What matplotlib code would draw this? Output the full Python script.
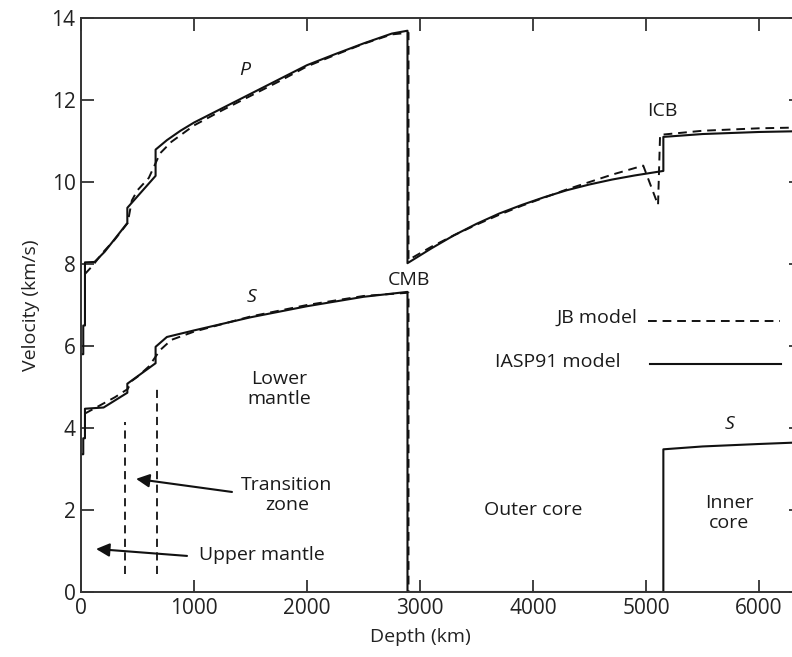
import matplotlib
matplotlib.use("Agg")
import matplotlib.pyplot as plt

plt.rcParams['font.family'] = ['Open Sans', 'DejaVu Sans']

# ---- data (depth km, velocity km/s) ----
iasp_p_depth = [0, 20, 20, 35, 35, 120, 210, 410, 410, 660, 660, 760, 880, 1000, 1250, 1500,
                1750, 2000, 2250, 2500, 2750, 2889, 2889, 3100, 3300, 3500, 3700, 3900, 4100,
                4300, 4500, 4700, 4900, 5153, 5153, 5500, 6000, 6371]
iasp_p_vel = [5.8, 5.8, 6.5, 6.5, 8.04, 8.05, 8.30, 9.0, 9.37, 10.15, 10.79, 11.02, 11.25,
              11.45, 11.8, 12.15, 12.5, 12.85, 13.12, 13.38, 13.62, 13.69, 8.02, 8.38, 8.70,
              8.98, 9.23, 9.44, 9.63, 9.80, 9.94, 10.06, 10.16, 10.27, 11.1, 11.17, 11.22, 11.24]

iasp_s_depth = [0, 20, 20, 35, 35, 200, 410, 410, 660, 660, 760, 1000, 1500, 2000, 2500, 2889,
                2889, 5153, 5153, 5500, 6000, 6371]
iasp_s_vel = [3.36, 3.36, 3.75, 3.75, 4.47, 4.5, 4.86, 5.08, 5.58, 5.98, 6.22, 6.38, 6.7, 6.97,
              7.2, 7.32, 0.0, 0.0, 3.48, 3.55, 3.61, 3.65]

jb_p_depth = [33, 100, 200, 300, 413, 450, 500, 600, 650, 700, 800, 1000, 1250, 1500, 1750,
              2000, 2250, 2500, 2750, 2898, 2898, 3100, 3300, 3500, 3700, 3900, 4100, 4300,
              4500, 4700, 4975, 5106, 5124, 5500, 6000, 6371]
jb_p_vel = [7.75, 7.95, 8.3, 8.6, 9.0, 9.55, 9.8, 10.1, 10.4, 10.7, 10.98, 11.38, 11.75, 12.1,
            12.45, 12.82, 13.1, 13.37, 13.6, 13.64, 8.1, 8.42, 8.70, 8.96, 9.20, 9.42, 9.62,
            9.82, 10.0, 10.18, 10.4, 9.44, 11.15, 11.25, 11.31, 11.33]

jb_s_depth = [33, 100, 200, 300, 413, 450, 500, 600, 650, 700, 800, 1000, 1500, 2000, 2500,
              2898, 2898]
jb_s_vel = [4.35, 4.45, 4.6, 4.75, 4.95, 5.15, 5.25, 5.5, 5.7, 5.9, 6.15, 6.35, 6.72, 7.0,
            7.22, 7.3, 0.0]

x_ticks = [0, 1000, 2000, 3000, 4000, 5000, 6000]
y_ticks = [0, 2, 4, 6, 8, 10, 12, 14]

# transition-zone boundaries (depth, y-bottom, y-top)
tz_depth = [390, 670]
tz_bottom = [0.44, 0.44]
tz_top = [4.15, 4.97]

# ---- figure ----
fig = plt.figure(figsize=(7.92, 6.57), dpi=100)
ax = fig.add_axes([81/792, 65/657, 720/792, 574/657])

dash = (0, (4.5, 3))
ink = '#111111'
ax.plot(jb_p_depth, jb_p_vel, color=ink, lw=1.4, linestyle=dash)
ax.plot(jb_s_depth, jb_s_vel, color=ink, lw=1.4, linestyle=dash)
ax.plot(iasp_p_depth, iasp_p_vel, color=ink, lw=1.5)
ax.plot(iasp_s_depth, iasp_s_vel, color=ink, lw=1.5)

for d, b, t in zip(tz_depth, tz_bottom, tz_top):
    ax.plot([d, d], [b, t], color=ink, lw=1.3, linestyle=(0, (4.5, 3)))

ax.set_xlim(0, 6371)
ax.set_ylim(0, 14)
ax.set_xticks(x_ticks)
ax.set_yticks(y_ticks)
ax.tick_params(direction='in', length=9, width=1.3, colors='#333333', labelsize=15,
               labelcolor='#222222', top=True, right=True, pad=4)
for s in ax.spines.values():
    s.set_linewidth(1.4)
    s.set_color('#333333')

ax.set_xlabel('Depth (km)', fontsize=14, color='#222222', labelpad=5)
ax.xaxis.set_label_coords((420 - 81) / 720, -0.062)
ax.set_ylabel('Velocity (km/s)', fontsize=14, color='#222222', labelpad=8)

fs = 14
tc = '#1a1a1a'
ax.text(1451, 12.73, 'P', style='italic', fontsize=fs, ha='center', va='center', color=tc)
ax.text(1513, 7.2, 'S', style='italic', fontsize=fs, ha='center', va='center', color=tc)
ax.text(5735, 4.1, 'S', style='italic', fontsize=fs, ha='center', va='center', color=tc)
ax.text(2903, 7.6, 'CMB', fontsize=fs, ha='center', va='center', color=tc)
ax.text(5142, 11.72, 'ICB', fontsize=fs, ha='center', va='center', color=tc)
ax.text(1752, 4.95, 'Lower\nmantle', fontsize=fs, ha='center', va='center', color=tc,
        linespacing=1.1)
ax.text(1823, 2.37, 'Transition\nzone', fontsize=fs, ha='center', va='center', color=tc,
        linespacing=1.1)
ax.text(1602, 0.9, 'Upper mantle', fontsize=fs, ha='center', va='center', color=tc)
ax.text(4000, 2.0, 'Outer core', fontsize=fs, ha='center', va='center', color=tc)
ax.text(5735, 1.93, 'Inner\ncore', fontsize=fs, ha='center', va='center', color=tc,
        linespacing=1.1)

# legend drawn as text + lines
ax.text(4920, 6.68, 'JB model', fontsize=fs, ha='right', va='center', color=tc)
ax.plot([5018, 6186], [6.61, 6.61], color=ink, lw=1.4, linestyle=dash)
ax.text(4770, 5.6, 'IASP91 model', fontsize=fs, ha='right', va='center', color=tc)
ax.plot([5035, 6195], [5.56, 5.56], color=ink, lw=1.5)

arrow = dict(arrowstyle='-|>', color=ink, lw=1.5, mutation_scale=20, shrinkA=0, shrinkB=0)
ax.annotate('', xy=(487, 2.76), xytext=(1336, 2.44), arrowprops=arrow)
ax.annotate('', xy=(133, 1.05), xytext=(938, 0.88), arrowprops=arrow)

fig.savefig('out.png', dpi=100)
